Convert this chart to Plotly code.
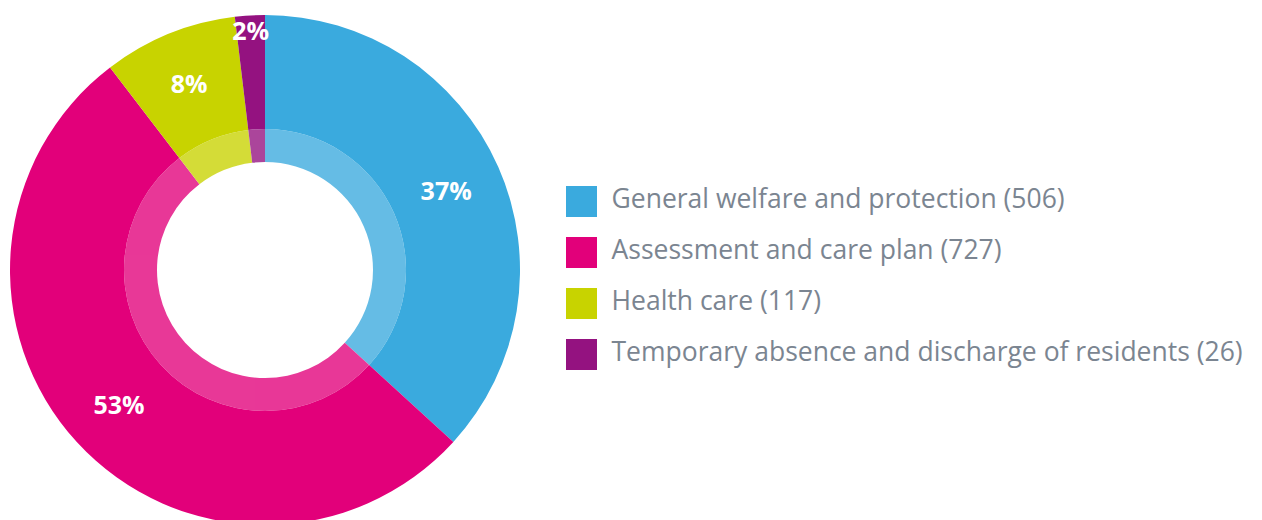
import plotly.graph_objects as go

categories = ["General welfare and protection", "Assessment and care plan",
              "Health care", "Temporary absence and discharge of residents"]
counts = [506, 727, 117, 26]
pct_labels = ["37%", "53%", "8%", "2%"]
colors = ["#3AAADE", "#E2007A", "#C8D300", "#941280"]

W, H = 1262, 520
OFF = 8                     # page body margin (px) to compensate for
cx, cy = 265 - OFF, 270 - OFF   # pie centre in figure px (from left, from top)
R_out, R_mid, R_hole = 255, 141, 108

def dom(r):
    return dict(x=[(cx - r) / W, (cx + r) / W],
                y=[max(0, (H - cy - r) / H), min(1, (H - cy + r) / H)])

fig = go.Figure()
fig.add_trace(go.Pie(
    labels=categories, values=counts, sort=False, direction="clockwise", rotation=0,
    hole=R_mid / R_out, domain=dom(R_out),
    marker=dict(colors=colors, line=dict(width=0)),
    text=pct_labels, textinfo="text", textposition="inside",
    insidetextorientation="horizontal",
    textfont=dict(family="Open Sans", size=25, color="white", weight="bold"),
    hoverinfo="skip", showlegend=False))
fig.add_trace(go.Pie(
    labels=categories, values=counts, sort=False, direction="clockwise", rotation=0,
    hole=R_hole / R_mid, domain=dom(R_mid), opacity=0.78,
    marker=dict(colors=colors, line=dict(width=0)),
    textinfo="none", hoverinfo="skip", showlegend=False))

# custom legend drawn on a hidden axis
rows = list(range(len(categories)))
leg_text = [f"{c} ({n})" for c, n in zip(categories, counts)]
fig.add_trace(go.Scatter(
    x=[0] * len(rows), y=rows, mode="markers",
    marker=dict(symbol="square", size=31, color=colors, line=dict(width=0)),
    hoverinfo="skip", showlegend=False))
fig.add_trace(go.Scatter(
    x=[1] * len(rows), y=rows, mode="text", text=leg_text, textposition="middle right",
    textfont=dict(family="Open Sans", size=26.5, color="#7B8591"),
    hoverinfo="skip", showlegend=False))

x0 = 581.5 - OFF       # marker centre px
unit_x = 611.5 - 581.5
row_top, row_step = 201.5 - OFF, 51
fig.update_layout(
    width=W, height=H, margin=dict(l=0, r=0, t=0, b=0),
    paper_bgcolor="white", plot_bgcolor="rgba(0,0,0,0)",
    uniformtext=dict(minsize=25, mode="show"),
    xaxis=dict(domain=[0, 1], range=[-x0 / unit_x, (W - x0) / unit_x], visible=False, fixedrange=True),
    yaxis=dict(domain=[0, 1], range=[(H - row_top) / row_step, -row_top / row_step],
               visible=False, fixedrange=True),
)
fig.write_html("out.html")
